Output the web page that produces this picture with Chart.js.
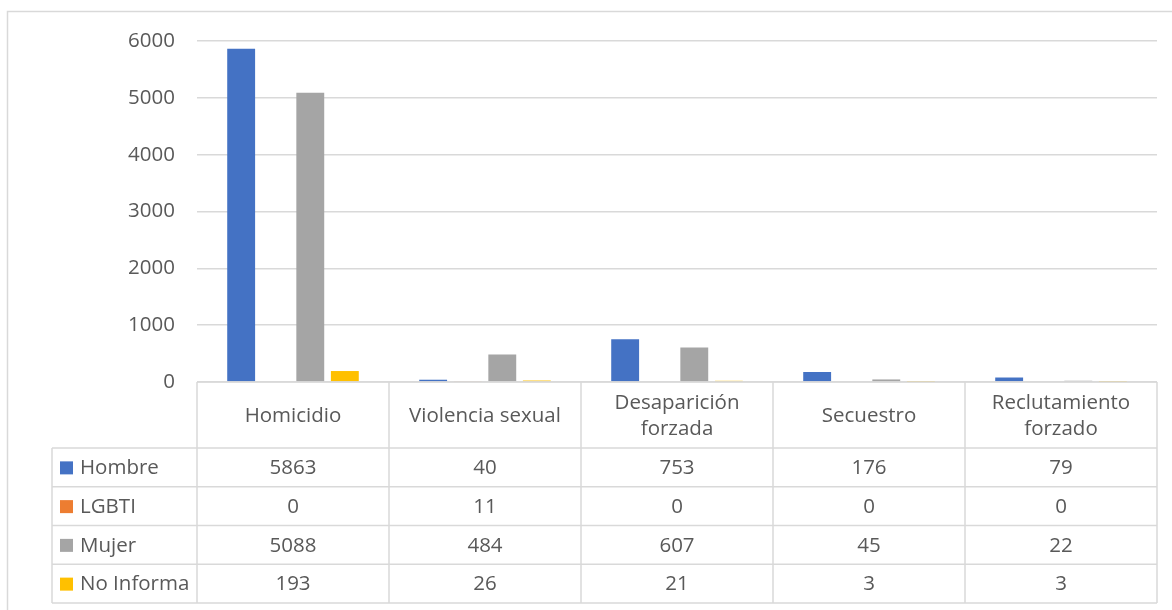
<!DOCTYPE html>
<html>
<head>
<meta charset="utf-8">
<script src="https://cdn.jsdelivr.net/npm/chart.js@4.4.1/dist/chart.umd.min.js"></script>
<style>
  html, body { margin: 0; padding: 0; background: #fff; }
  #wrap { width: 1172px; height: 610px; position: relative; }
</style>
</head>
<body>
<div id="wrap"><canvas id="chart" width="1172" height="610"></canvas></div>
<script>
const categories = ['Homicidio', 'Violencia sexual', ['Desaparición', 'forzada'], 'Secuestro', ['Reclutamiento', 'forzado']];
const seriesNames = ['Hombre', 'LGBTI', 'Mujer', 'No Informa'];
const hombre = [5863, 40, 753, 176, 79];
const lgbti = [0, 11, 0, 0, 0];
const mujer = [5088, 484, 607, 45, 22];
const noInforma = [193, 26, 21, 3, 3];
const yTicks = [0, 1000, 2000, 3000, 4000, 5000, 6000];

const colors = ['#4472C4', '#ED7D31', '#A5A5A5', '#FFC000'];
const values = [hombre, lgbti, mujer, noInforma];

const FONT = '"Open Sans", "DejaVu Sans", sans-serif';
const FONT_SIZE = 20.5;
const TEXT = '#595959';
const LINE = '#d9d9d9';

// data table drawn under the plot, aligned to the category scale
const tablePlugin = {
  id: 'dataTable',
  beforeDraw(chart) {
    const ctx = chart.ctx;
    ctx.save();
    ctx.strokeStyle = LINE;
    ctx.lineWidth = 1.5;
    ctx.strokeRect(7.5, 11.5, 1180, 620);
    ctx.restore();
  },
  afterDraw(chart) {
    const ctx = chart.ctx;
    const area = chart.chartArea;
    const xs = chart.scales.x;
    const colW = (area.right - area.left) / categories.length;
    const top = area.bottom;
    const headBottom = top + 66;
    const rowH = 38.75;
    const legendLeft = 52;
    const bottom = headBottom + rowH * seriesNames.length;

    ctx.save();
    ctx.strokeStyle = LINE;
    ctx.lineWidth = 1.5;
    ctx.beginPath();
    // horizontal lines
    ctx.moveTo(area.left, top); ctx.lineTo(area.right, top);
    for (let r = 0; r <= seriesNames.length; r++) {
      const y = headBottom + r * rowH;
      ctx.moveTo(legendLeft, y); ctx.lineTo(area.right, y);
    }
    // vertical lines
    ctx.moveTo(legendLeft, headBottom); ctx.lineTo(legendLeft, bottom);
    for (let c = 0; c <= categories.length; c++) {
      const x = area.left + c * colW;
      ctx.moveTo(x, top); ctx.lineTo(x, bottom);
    }
    ctx.stroke();

    ctx.fillStyle = TEXT;
    ctx.font = FONT_SIZE + 'px ' + FONT;
    ctx.textAlign = 'center';
    ctx.textBaseline = 'middle';

    // category headers
    categories.forEach((cat, i) => {
      const cx = xs.getPixelForValue(i);
      const lines = Array.isArray(cat) ? cat : [cat];
      const mid = (top + headBottom) / 2 + 1;
      lines.forEach((ln, k) => {
        ctx.fillText(ln, cx, mid + (k - (lines.length - 1) / 2) * 26);
      });
    });

    // series rows
    seriesNames.forEach((name, r) => {
      const cy = headBottom + r * rowH + rowH / 2 + 1;
      ctx.fillStyle = colors[r];
      ctx.fillRect(60, cy - 7, 13, 13);
      ctx.fillStyle = TEXT;
      ctx.textAlign = 'left';
      ctx.fillText(name, 80, cy);
      ctx.textAlign = 'center';
      values[r].forEach((v, i) => {
        ctx.fillText(String(v), xs.getPixelForValue(i), cy);
      });
    });
    ctx.restore();
  }
};

new Chart(document.getElementById('chart'), {
  type: 'bar',
  data: {
    labels: categories,
    datasets: seriesNames.map((name, i) => ({
      label: name,
      data: values[i],
      backgroundColor: colors[i],
      categoryPercentage: 0.72,
      barPercentage: 0.807
    }))
  },
  options: {
    responsive: false,
    animation: false,
    layout: { padding: { top: 41, right: 15, bottom: 228, left: 0 } },
    plugins: { legend: { display: false }, tooltip: { enabled: false } },
    scales: {
      x: { display: false },
      y: {
        min: 0,
        max: 6000,
        afterFit(scale) { scale.width = 197; },
        afterBuildTicks(scale) { scale.ticks = yTicks.map(v => ({ value: v })); },
        border: { display: false },
        grid: { color: LINE, lineWidth: 1.5, drawTicks: false },
        ticks: {
          padding: 22,
          color: TEXT,
          font: { family: FONT, size: FONT_SIZE },
          callback: v => String(v)
        }
      }
    }
  },
  plugins: [tablePlugin]
});
</script>
</body>
</html>
